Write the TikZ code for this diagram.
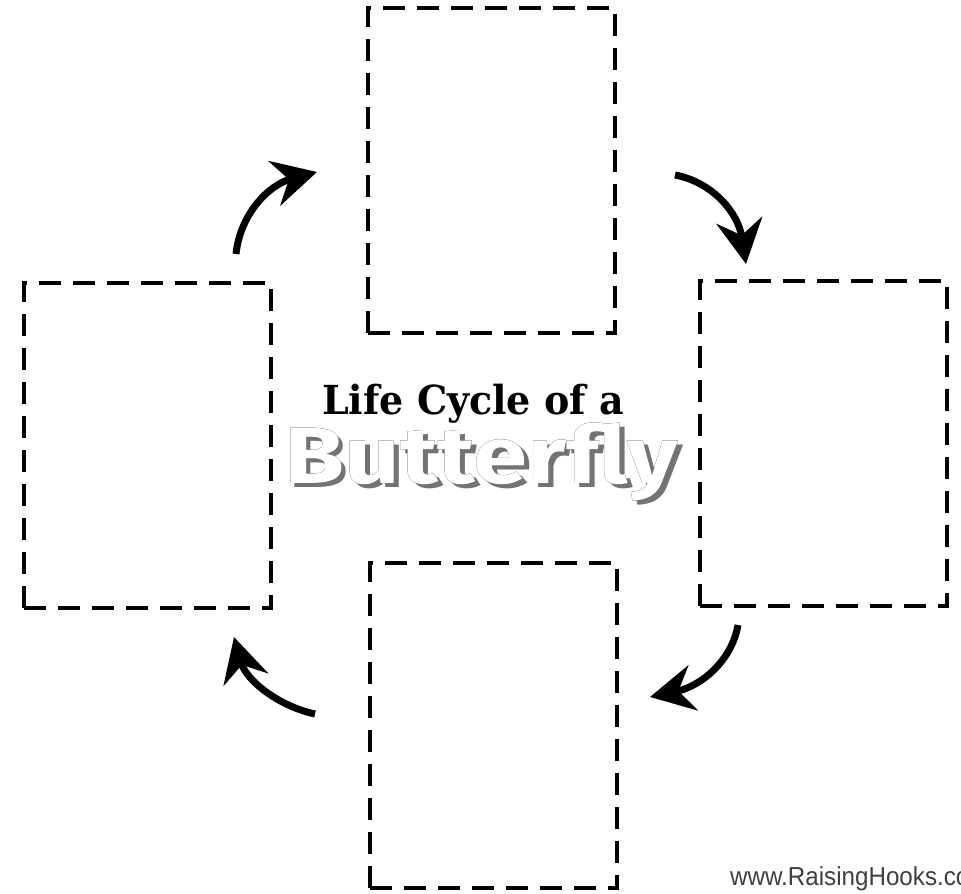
\documentclass[tikz,border=0pt]{standalone}
\usepackage{fontspec}
\usepackage[outline]{contour}
\usetikzlibrary{arrows.meta}
\newfontfamily\titlefont{DejaVu Serif}
\newfontfamily\bigfont{Fira Sans}
\newfontfamily\webfont{Liberation Sans}
\contourlength{3pt}
\tikzset{
  framebox/.style={draw=black, line width=4pt, dash pattern=on 22pt off 12pt, minimum width=247pt, minimum height=325pt, inner sep=0pt},
  cyclearrow/.style={line width=7pt, -{Stealth[length=44pt,width=46pt,inset=15pt]}}
}
\begin{document}
\begin{tikzpicture}[x=1pt,y=-1pt]
\useasboundingbox (0,0) rectangle (961,894);
\fill[white] (0,0) rectangle (961,894);
% boxes
\node[framebox] (top) at (491.5,170.5) {};
\node[framebox] (left) at (147,445) {};
\node[framebox] (right) at (823,443.5) {};
\node[framebox] (bottom) at (493.5,725.5) {};
% arrow end points
\coordinate (a1s) at (236,254);
\coordinate (a1e) at (317,172);
\coordinate (a2s) at (675,175);
\coordinate (a2e) at (746,264);
\coordinate (a3s) at (738,625);
\coordinate (a3e) at (650,697);
\coordinate (a4s) at (315,714);
\coordinate (a4e) at (234,637);
\draw[cyclearrow] (a1s) .. controls (240,215) and (268,185) .. (a1e);
\draw[cyclearrow] (a2s) .. controls (712,182) and (738,212) .. (a2e);
\draw[cyclearrow] (a3s) .. controls (732,660) and (702,686) .. (a3e);
\draw[cyclearrow] (a4s) .. controls (278,706) and (246,680) .. (a4e);
% title
\node[font=\titlefont\bfseries\fontsize{40}{44}\selectfont, inner sep=0pt, xscale=0.95] (title1) at (473,404) {Life Cycle of a};
\node[font=\bigfont\bfseries\fontsize{80}{84}\selectfont, inner sep=0pt, xscale=1.22] (title2) at (481,464) {\rlap{\hspace{4pt}\raisebox{-4pt}{\textcolor{black!55}{Butterfly}}}\contour{black}{\textcolor{white}{Butterfly}}};
% watermark (cut off at the right edge, as in the reference)
\begin{scope}
\clip (0,0) rectangle (961,894);
\node[font=\webfont\fontsize{26}{28}\selectfont, text=black!75, anchor=west, inner sep=0pt, xscale=0.93] (web) at (730,879) {www.RaisingHooks.com};
\end{scope}
\end{tikzpicture}
\end{document}
